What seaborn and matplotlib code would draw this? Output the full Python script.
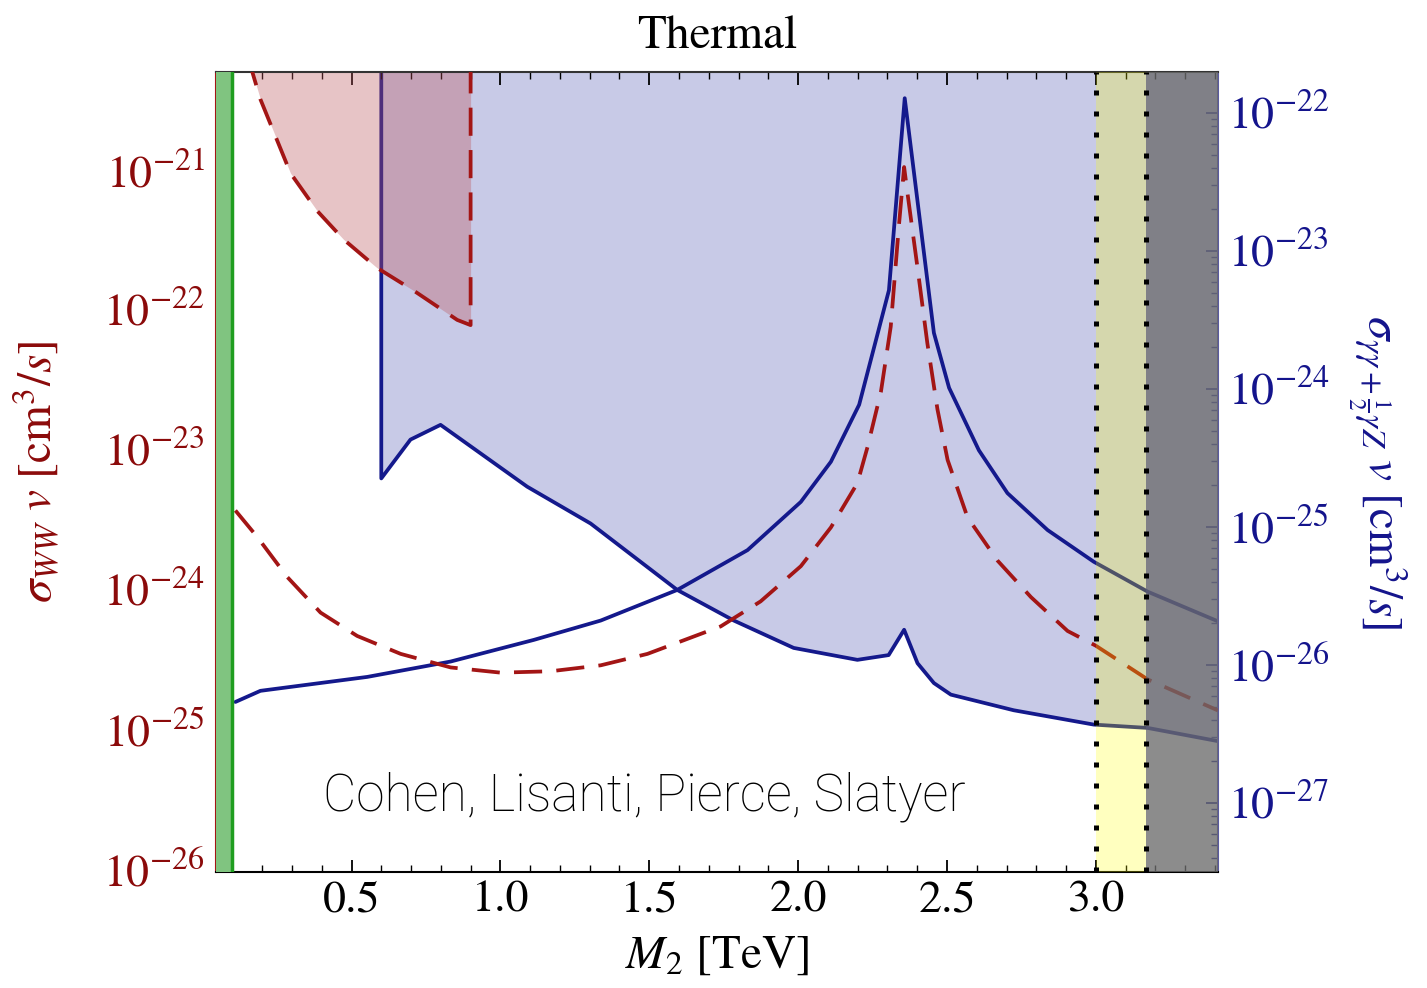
import matplotlib
matplotlib.use('Agg')
import matplotlib.pyplot as plt
import seaborn as sns
from matplotlib.ticker import FixedLocator, LogLocator, MultipleLocator, NullFormatter

sns.set_style("ticks")
plt.rcParams['font.family'] = ['STIXGeneral', 'DejaVu Serif']
plt.rcParams['mathtext.fontset'] = 'stix'
plt.rcParams['text.color'] = 'black'
plt.rcParams['axes.labelcolor'] = 'black'
plt.rcParams['xtick.color'] = 'black'

# --- data (M2 in TeV, cross sections in cm^3/s) ---
# sigma_WW v, thermal prediction (left axis, red dashed)
ww_x = [0.110, 0.183, 0.284, 0.396, 0.519, 0.665, 0.833, 1.001, 1.169, 1.337,
        1.494, 1.740, 1.874, 2.009, 2.110, 2.199, 2.233, 2.278, 2.311, 2.338,
        2.356, 2.367, 2.401, 2.434, 2.468, 2.502, 2.569, 2.670, 2.782, 2.905,
        3.000, 3.174, 3.410]
ww_y = [3.7e-24, 2.4e-24, 1.24e-24, 6.9e-25, 4.7e-25, 3.5e-25, 2.8e-25, 2.57e-25,
        2.63e-25, 2.9e-25, 3.5e-25, 5.5e-25, 8.3e-25, 1.48e-24, 2.8e-24, 5.8e-24,
        1.05e-23, 2.6e-23, 7.6e-23, 3.9e-22, 1.05e-21, 6.9e-22, 2.0e-22, 5.8e-23,
        1.95e-23, 8.5e-24, 3.3e-24, 1.62e-24, 8.9e-25, 5.1e-25, 4.0e-25, 2.3e-25,
        1.38e-25]

# sigma_WW v limit (left axis, red dashed, shaded above)
ww_lim_x = [0.155, 0.167, 0.194, 0.295, 0.385, 0.473, 0.586, 0.708, 0.855, 0.900, 0.900]
ww_lim_y = [6.3e-21, 5.0e-21, 3.2e-21, 9.5e-22, 5.1e-22, 3.2e-22, 2.0e-22, 1.38e-22,
            8.5e-23, 7.8e-23, 1e-19]

# gamma-gamma + 1/2 gamma-Z limit (right axis, blue solid, shaded above)
gg_lim_x = [0.600, 0.600, 0.698, 0.799, 1.090, 1.303, 1.594, 1.784, 1.985, 2.199,
            2.304, 2.356, 2.401, 2.456, 2.513, 2.724, 2.993, 3.174, 3.413]
gg_lim_y = [1e-20, 2.25e-25, 4.3e-25, 5.5e-25, 1.96e-25, 1.06e-25, 3.5e-26, 2.1e-26,
            1.33e-26, 1.09e-26, 1.18e-26, 1.8e-26, 1.03e-26, 7.4e-27, 6.1e-27,
            4.7e-27, 3.7e-27, 3.5e-27, 2.8e-27]

# gamma-gamma + 1/2 gamma-Z thermal prediction (right axis, blue solid)
gg_x = [0.110, 0.194, 0.553, 0.833, 1.112, 1.337, 1.594, 1.830, 2.009, 2.110,
        2.205, 2.305, 2.358, 2.456, 2.507, 2.607, 2.703, 2.838, 2.993, 3.174, 3.413]
gg_y = [5.4e-27, 6.5e-27, 8.2e-27, 1.06e-26, 1.52e-26, 2.1e-26, 3.5e-26, 6.8e-26,
        1.52e-25, 2.97e-25, 7.7e-25, 5.2e-24, 1.28e-22, 2.55e-24, 1.02e-24, 3.6e-25,
        1.76e-25, 9.5e-26, 5.6e-26, 3.4e-26, 2.06e-26]

# axis decades that carry labels
left_decades = [1e-26, 1e-25, 1e-24, 1e-23, 1e-22, 1e-21]
right_decades = [1e-27, 1e-26, 1e-25, 1e-24, 1e-23, 1e-22]

# vertical bands
green_edge = 0.1
yellow_band = (3.0, 3.17)

RED = '#A31515'
RED_TXT = '#8B0A0A'
BLUE = '#14198C'
BLUE_TXT = '#14148C'

fig = plt.figure(figsize=(14.27, 9.88), dpi=100)
ax = fig.add_axes([0.1514, 0.1174, 0.7021, 0.8097])
ax2 = ax.twinx()
ax2.xaxis.set_visible(False)

# red axis on top of the blue one
ax.set_zorder(2)
ax2.set_zorder(1)
ax.patch.set_visible(False)
ax2.patch.set_visible(True)
ax2.patch.set_facecolor('white')

ax.set_yscale('log')
ax2.set_yscale('log')
ax.set_xlim(0.045, 3.41)
ax.set_ylim(10 ** -26.014, 10 ** -20.3)
ax2.set_ylim(10 ** -27.5, 10 ** -21.703)

# blue exclusion + prediction
ax2.fill_between(gg_lim_x[1:], gg_lim_y[1:], 1e-19, color='#6268BD', alpha=0.35, lw=0)
sns.lineplot(x=gg_lim_x, y=gg_lim_y, ax=ax2, color=BLUE, linewidth=2.7,
             estimator=None, sort=False)
sns.lineplot(x=gg_x, y=gg_y, ax=ax2, color=BLUE, linewidth=2.7,
             estimator=None, sort=False)

# red exclusion + prediction
ax.fill_between(ww_lim_x[:-1], ww_lim_y[:-1], 1e-19, color='#BD565C', alpha=0.35,
                lw=0, zorder=1)
sns.lineplot(x=ww_lim_x, y=ww_lim_y, ax=ax, color=RED, linewidth=2.7,
             linestyle=(0, (7.5, 3.8)), estimator=None, sort=False, zorder=3)
sns.lineplot(x=ww_x, y=ww_y, ax=ax, color=RED, linewidth=2.7,
             linestyle=(0, (7.5, 3.8)), estimator=None, sort=False, zorder=3)

# bands
ax.axvspan(0.0, green_edge, color='#80C480', lw=0, zorder=4)
ax.axvline(green_edge, color='#1F9E1F', lw=2.5, zorder=4)
ax.axvspan(yellow_band[0], yellow_band[1], color='#FFFF00', alpha=0.25, lw=0, zorder=4)
ax.axvspan(yellow_band[1], 3.6, color='#6C6C6C', alpha=0.78, lw=0, zorder=4)
for xv in yellow_band:
    ax.axvline(xv, color='black', lw=3.6, linestyle=(0, (1, 3.2)), zorder=5)

ax.text(0.427, 0.094, 'Cohen, Lisanti, Pierce, Slatyer', transform=ax.transAxes,
        ha='center', va='center', fontsize=37, family=['Roboto', 'DejaVu Sans'],
        fontweight='light', color='black', zorder=6)

# ticks
ax.xaxis.set_major_locator(MultipleLocator(0.5))
ax.xaxis.set_minor_locator(MultipleLocator(0.1))
ax.yaxis.set_major_locator(FixedLocator(left_decades))
ax2.yaxis.set_major_locator(FixedLocator(right_decades))
for a in (ax, ax2):
    a.yaxis.set_minor_locator(LogLocator(base=10, subs=range(2, 10), numticks=20))
    a.yaxis.set_minor_formatter(NullFormatter())

ax.tick_params(axis='x', which='both', direction='in', top=True, color='black',
               labelcolor='black', labelsize=33, pad=6)
ax.tick_params(axis='x', which='major', length=9, width=1.3)
ax.tick_params(axis='x', which='minor', length=5, width=1.0)
ax.tick_params(axis='y', which='both', direction='in', left=True, right=False,
               color=RED, labelcolor=RED_TXT, labelsize=33, pad=8)
ax.tick_params(axis='y', which='major', length=9, width=1.3)
ax.tick_params(axis='y', which='minor', length=5, width=1.0)
ax2.tick_params(axis='y', which='both', direction='in', color=BLUE,
                labelcolor=BLUE_TXT, labelsize=33, pad=7)
ax2.tick_params(axis='y', which='major', length=9, width=1.3)
ax2.tick_params(axis='y', which='minor', length=5, width=1.0)

# spines
ax.spines['left'].set_color(RED)
ax.spines['right'].set_visible(False)
ax.spines['top'].set_color('#333333')
ax.spines['bottom'].set_color('black')
for s in ('left', 'top', 'bottom'):
    ax2.spines[s].set_visible(False)
ax2.spines['right'].set_color('#5A5AA0')
for a in (ax, ax2):
    for s in a.spines.values():
        s.set_linewidth(1.5)

ax.set_title('Thermal', fontsize=34, pad=17, color='black')
ax.set_xlabel(r'$M_2$ [TeV]', fontsize=34, labelpad=10, color='black')
ax.set_ylabel(r'$\sigma_{WW}\ v\ \left[\mathrm{cm}^3/s\right]$', fontsize=34,
              color=RED_TXT, labelpad=30)
ax2.set_ylabel(r'$\sigma_{\gamma\gamma+\frac{1}{2}\gamma Z}\ v\ \left[\mathrm{cm}^3/s\right]$',
               fontsize=34, color=BLUE_TXT, rotation=270, labelpad=58)

fig.savefig('out.png', dpi=100)
